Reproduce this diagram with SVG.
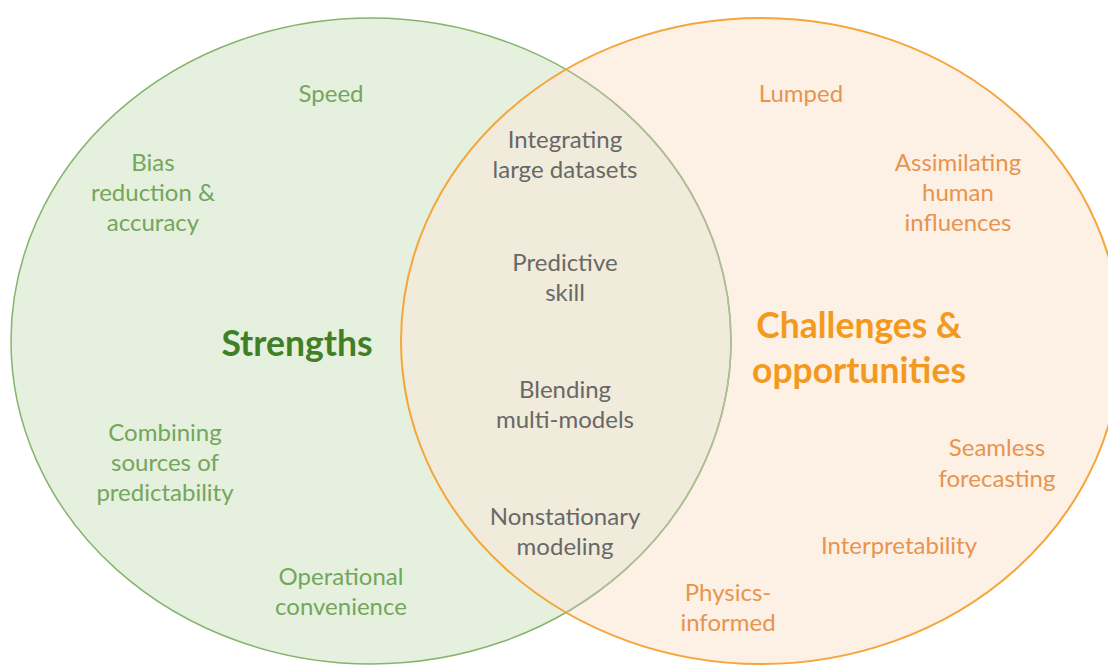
<svg xmlns="http://www.w3.org/2000/svg" width="1108" height="665" viewBox="0 0 1108 665">
  <style>
    text { font-family: Lato, "Open Sans", "Liberation Sans", sans-serif; text-anchor: middle; }
    .lbl { font-size: 24px; }
    .g { fill: #74A65B; }
    .o { fill: #E8944E; }
    .c { fill: #686868; }
    .title { font-size: 35.5px; font-weight: bold; }
  </style>
  <defs>
    <ellipse id="leftShape" cx="371" cy="341" rx="360" ry="323"/>
    <ellipse id="rightShape" cx="761" cy="341" rx="360" ry="323"/>
    <clipPath id="rightClip"><use href="#rightShape"/></clipPath>
  </defs>
  <rect width="1108" height="665" fill="#FFFFFF"/>

  <!-- the two sets and their overlap -->
  <g id="sets">
    <use href="#leftShape" fill="#E5F0DE"/>
    <use href="#rightShape" fill="#FDF1E6"/>
    <use href="#leftShape" fill="#F0EBDA" clip-path="url(#rightClip)"/>
    <use href="#leftShape" fill="none" stroke="#86B46D" stroke-width="1.5"/>
    <use href="#leftShape" fill="none" stroke="#B2BC98" stroke-width="1.5" clip-path="url(#rightClip)"/>
    <use href="#rightShape" fill="none" stroke="#F4A63A" stroke-width="2"/>
  </g>

  <g id="strengths">
    <text class="title" x="297" y="356" fill="#3F7F25">Strengths</text>
    <text class="lbl g" x="331" y="102">Speed</text>
    <text class="lbl g" x="153" y="171">Bias</text>
    <text class="lbl g" x="153" y="201">reduction &amp;</text>
    <text class="lbl g" x="153" y="231">accuracy</text>
    <text class="lbl g" x="165" y="441">Combining</text>
    <text class="lbl g" x="165" y="471">sources of</text>
    <text class="lbl g" x="165" y="501">predictability</text>
    <text class="lbl g" x="341" y="585">Operational</text>
    <text class="lbl g" x="341" y="615">convenience</text>
  </g>

  <g id="shared">
    <text class="lbl c" x="565" y="148">Integrating</text>
    <text class="lbl c" x="565" y="178">large datasets</text>
    <text class="lbl c" x="565" y="271">Predictive</text>
    <text class="lbl c" x="565" y="301">skill</text>
    <text class="lbl c" x="565" y="398">Blending</text>
    <text class="lbl c" x="565" y="428">multi-models</text>
    <text class="lbl c" x="565" y="525">Nonstationary</text>
    <text class="lbl c" x="565" y="555">modeling</text>
  </g>

  <g id="challenges">
    <text class="title" x="859" y="338" fill="#F39A1E">Challenges &amp;</text>
    <text class="title" x="859" y="383" fill="#F39A1E">opportunities</text>
    <text class="lbl o" x="801" y="102">Lumped</text>
    <text class="lbl o" x="958" y="171">Assimilating</text>
    <text class="lbl o" x="958" y="201">human</text>
    <text class="lbl o" x="958" y="231">influences</text>
    <text class="lbl o" x="997" y="456">Seamless</text>
    <text class="lbl o" x="997" y="487">forecasting</text>
    <text class="lbl o" x="899" y="554">Interpretability</text>
    <text class="lbl o" x="728" y="601">Physics-</text>
    <text class="lbl o" x="728" y="631">informed</text>
  </g>
</svg>
